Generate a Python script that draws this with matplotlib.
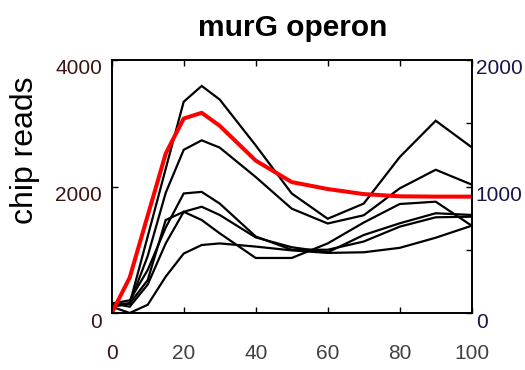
import matplotlib
matplotlib.use('Agg')
import matplotlib.pyplot as plt
from matplotlib import font_manager
import matplotlib.transforms as mtransforms

# ---------------- data ----------------
time_points = [0, 5, 10, 15, 20, 25, 30, 40, 50, 60, 70, 80, 90, 100]
gene_a = [150, 150, 1210, 2280, 3340, 3590, 3375, 2650, 1890, 1490, 1730, 2465, 3040, 2620]
gene_b = [100, 150, 900, 1900, 2580, 2730, 2615, 2150, 1650, 1415, 1545, 1970, 2265, 2030]
gene_c = [150, 200, 680, 1350, 1890, 1915, 1730, 1210, 1000, 1000, 1130, 1365, 1513, 1523]
gene_d = [100, 150, 520, 1470, 1600, 1680, 1550, 1195, 1040, 960, 1233, 1418, 1577, 1550]
gene_e = [150, 100, 450, 1100, 1600, 1470, 1260, 870, 870, 1100, 1430, 1723, 1760, 1380]
gene_f = [100, 0, 130, 575, 940, 1075, 1100, 1050, 990, 950, 960, 1030, 1190, 1380]
operon_fit = [0, 560, 1540, 2520, 3075, 3165, 2960, 2410, 2070, 1960, 1880, 1845, 1840, 1840]

x_ticks = [0, 20, 40, 60, 80, 100]
left_ticks = [0, 2000, 4000]
right_ticks = [0, 500, 1000, 1500, 2000]
right_labels = ['0', '', '1000', '', '2000']
title_text = 'murG operon'
ylabel_text = 'chip reads'

# ---------------- fonts ----------------
def pick(fams):
    for f in fams:
        try:
            font_manager.findfont(font_manager.FontProperties(family=f),
                                  fallback_to_default=False)
            return f
        except Exception:
            pass
    return None

narrow = pick(['Liberation Sans Narrow', 'Arial Narrow', 'Nimbus Sans Narrow'])
if narrow is not None:
    tick_family, tick_size = narrow, 17.5
else:
    tick_family, tick_size = 'Liberation Sans', 15
main_family = pick(['Liberation Sans', 'Arial']) or 'DejaVu Sans'

LEFT_COL = '#3c1414'
RIGHT_COL = '#16164a'
GRAY = '#404040'

W, H = 525, 370
fig = plt.figure(figsize=(W / 100, H / 100), dpi=100)
x0, x1, y0, y1 = 111.7, 471.7, 60, 313
ax = fig.add_axes([x0 / W, 1 - y1 / H, (x1 - x0) / W, (y1 - y0) / H])
ax2 = ax.twinx()

for s in [gene_a, gene_b, gene_c, gene_d, gene_e, gene_f]:
    ax.plot(time_points, s, color='black', lw=1.6, solid_joinstyle='miter')
ax.plot(time_points, operon_fit, color='#ff0000', lw=2.9, zorder=5)

ax.set_xlim(0, 100)
ax.set_ylim(0, 4000)
ax2.set_ylim(0, 2000)

ax.set_xticks(x_ticks)
ax.set_xticklabels([str(v) for v in x_ticks])
ax.set_yticks(left_ticks)
ax.set_yticklabels([str(v) for v in left_ticks])
ax2.set_yticks(right_ticks)
ax2.set_yticklabels(right_labels)

ax.tick_params(axis='x', direction='in', length=4.5, width=1, top=True,
               bottom=True, pad=22, labelsize=tick_size, labelcolor=GRAY)
ax.tick_params(axis='y', direction='in', length=4.5, width=1, left=True,
               right=False, pad=7, labelsize=tick_size, labelcolor=LEFT_COL)
ax2.tick_params(axis='y', direction='in', length=4.5, width=1, left=False,
                right=True, pad=3, labelsize=tick_size, labelcolor=RIGHT_COL)

for t in ax.get_xticklabels():
    t.set_family(tick_family)
ax.get_xticklabels()[0].set_color(LEFT_COL)
off = mtransforms.ScaledTranslation(0, -7 / 100, fig.dpi_scale_trans)
for t in ax.get_yticklabels():
    t.set_family(tick_family)
    t.set_transform(t.get_transform() + off)
for t in ax2.get_yticklabels():
    t.set_family(tick_family)
    t.set_transform(t.get_transform() + off)

for a in (ax, ax2):
    for sp in a.spines.values():
        sp.set_linewidth(1.2)
        sp.set_color('black')

fig.text(293 / W, 1 - 36.5 / H, title_text, ha='center', va='baseline',
         fontsize=21.5, fontweight='bold', family=main_family)
fig.text(25 / W, 1 - 150 / H, ylabel_text, ha='center', va='center',
         rotation=90, fontsize=23, family=main_family, color='black')

fig.savefig('out.png', dpi=100, facecolor='white')
